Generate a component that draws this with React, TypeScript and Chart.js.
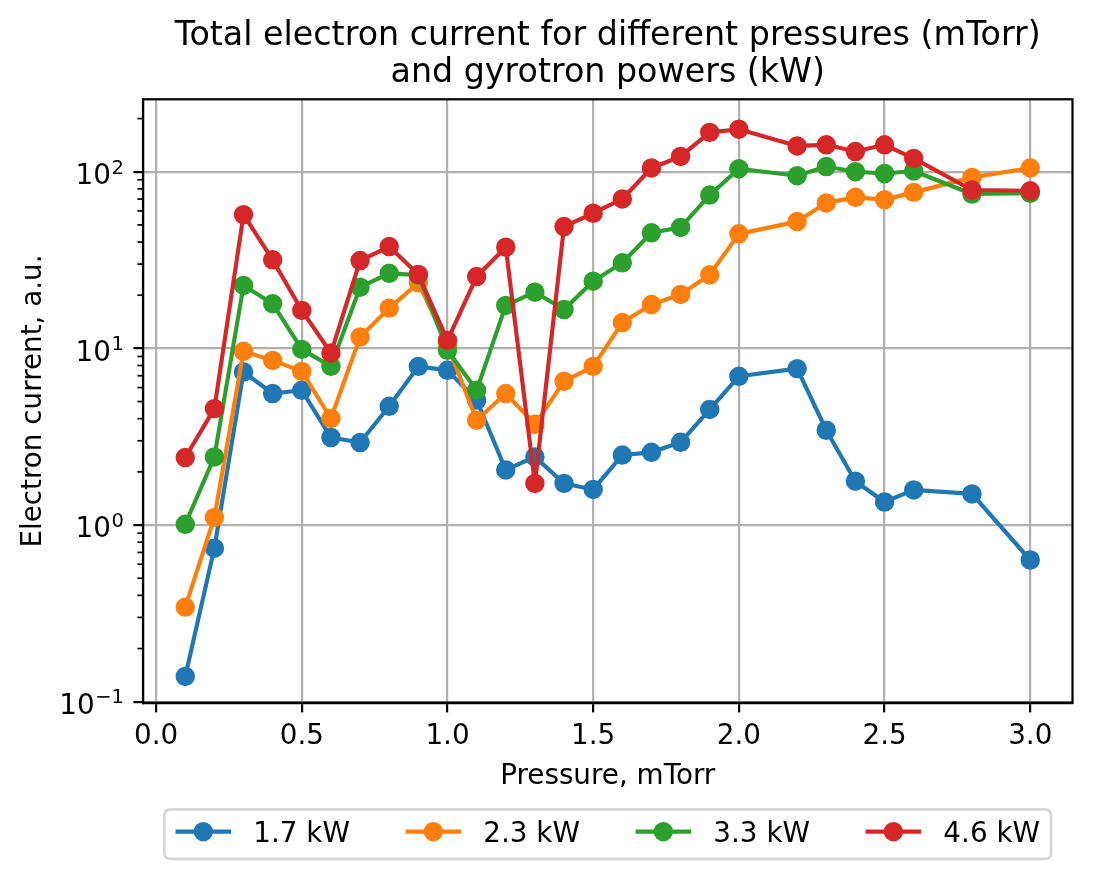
import React, { useEffect, useRef } from 'react';
import { Chart, registerables } from 'chart.js';

Chart.register(...registerables);

const pressure = [
  0.1, 0.2, 0.3, 0.4, 0.5, 0.6, 0.7, 0.8, 0.9, 1.0,
  1.1, 1.2, 1.3, 1.4, 1.5, 1.6, 1.7, 1.8, 1.9, 2.0,
  2.2, 2.3, 2.4, 2.5, 2.6, 2.8, 3.0,
];

const current17 = [
  0.139, 0.74, 7.35, 5.55, 5.79, 3.13, 2.93, 4.7, 7.91, 7.51,
  5.1, 2.05, 2.43, 1.72, 1.59, 2.49, 2.58, 2.94, 4.51, 6.95,
  7.68, 3.44, 1.77, 1.35, 1.58, 1.5, 0.634,
];
const current23 = [
  0.343, 1.105, 9.62, 8.55, 7.41, 4.01, 11.6, 16.9, 23.5, 10.5,
  3.92, 5.55, 3.72, 6.51, 7.91, 14.0, 17.7, 20.2, 26.1, 44.5,
  52.2, 66.6, 71.6, 69.5, 76.4, 92.9, 105,
];
const current33 = [
  1.01, 2.43, 22.7, 17.9, 9.87, 7.91, 22.2, 26.6, 26.0, 9.75,
  5.79, 17.5, 20.8, 16.6, 24.0, 30.5, 45.1, 48.4, 73.8, 104,
  94.9, 107, 100, 97.7, 101, 74.8, 75.5,
];
const current46 = [
  2.41, 4.56, 57.1, 31.7, 16.4, 9.41, 31.4, 37.7, 26.2, 11.1,
  25.5, 37.4, 1.72, 48.9, 58.2, 70.1, 105, 122, 167, 174,
  140, 142, 130, 142, 119, 78.8, 78.0,
];

const seriesLabels = ['1.7 kW', '2.3 kW', '3.3 kW', '4.6 kW'];
const seriesColors = ['#1f77b4', '#ff7f0e', '#2ca02c', '#d62728'];
const seriesValues = [current17, current23, current33, current46];

const xTicks = [0, 0.5, 1.0, 1.5, 2.0, 2.5, 3.0];
const yTicks = [0.1, 1, 10, 100];
const yTickBase = '10';
const yTickExponents = ['\u22121', '0', '1', '2'];
const minorMultipliers = [2, 3, 4, 5, 6, 7, 8, 9];

const titleLines = [
  'Total electron current for different pressures (mTorr)',
  'and gyrotron powers (kW)',
];
const xLabel = 'Pressure, mTorr';
const yLabel = 'Electron current, a.u.';

const FONT = '"DejaVu Sans", sans-serif';
const W = 1096;
const H = 879;

// matplotlib look at ~200 dpi
const decorations = {
  id: 'decorations',
  afterDatasetsDraw(chart: any) {
    const { ctx, chartArea: a, scales } = chart;
    ctx.save();
    ctx.strokeStyle = '#000';
    ctx.lineWidth = 2.2;
    ctx.strokeRect(a.left, a.top, a.right - a.left, a.bottom - a.top);

    // minor log ticks on the y axis
    const y = scales.y;
    ctx.lineWidth = 1.7;
    for (let d = -2; d <= 3; d++) {
      for (const m of minorMultipliers) {
        const v = m * Math.pow(10, d);
        if (v < y.min || v > y.max) continue;
        const py = y.getPixelForValue(v);
        ctx.beginPath();
        ctx.moveTo(a.left, py);
        ctx.lineTo(a.left - 5.6, py);
        ctx.stroke();
      }
    }

    // y tick labels as 10^n (mathtext style)
    ctx.fillStyle = '#000';
    ctx.textBaseline = 'alphabetic';
    ctx.textAlign = 'left';
    const right = a.left - 19.6;
    yTicks.forEach((v, i) => {
      const py = y.getPixelForValue(v);
      ctx.font = `19.5px ${FONT}`;
      const supW = ctx.measureText(yTickExponents[i]).width;
      ctx.font = `27.8px ${FONT}`;
      const baseW = ctx.measureText(yTickBase).width;
      const x0 = right - supW - baseW;
      ctx.fillText(yTickBase, x0, py + 12.3);
      ctx.font = `19.5px ${FONT}`;
      ctx.fillText(yTickExponents[i], x0 + baseW + 0.5, py + 1.8);
    });
    ctx.restore();
  },
  afterDraw(chart: any) {
    const { ctx, chartArea: a } = chart;
    const cx = (a.left + a.right) / 2;
    ctx.save();

    // title
    ctx.fillStyle = '#000';
    ctx.font = `33.3px ${FONT}`;
    ctx.textAlign = 'center';
    ctx.textBaseline = 'alphabetic';
    ctx.fillText(titleLines[0], cx, 45.3);
    ctx.fillText(titleLines[1], cx, 82);

    // legend below the axes
    ctx.font = `27.8px ${FONT}`;
    const handleLen = 55.6;
    const handlePad = 22.2;
    const colSpace = 55.6;
    const pad = 11.1;
    const widths = seriesLabels.map((t) => ctx.measureText(t).width);
    const content =
      widths.reduce((s, w) => s + w, 0) +
      seriesLabels.length * (handleLen + handlePad) +
      (seriesLabels.length - 1) * colSpace;
    const boxW = content + 2 * pad;
    const boxL = cx - boxW / 2;
    const boxT = 809.3;
    const boxH = 49.7;
    ctx.beginPath();
    ctx.roundRect(boxL, boxT, boxW, boxH, 5.6);
    ctx.fillStyle = 'rgba(255,255,255,0.8)';
    ctx.fill();
    ctx.strokeStyle = '#d6d6d6';
    ctx.lineWidth = 2.8;
    ctx.stroke();

    let x = boxL + pad;
    const lineY = 831.7;
    ctx.textAlign = 'left';
    seriesLabels.forEach((label, i) => {
      ctx.strokeStyle = seriesColors[i];
      ctx.fillStyle = seriesColors[i];
      ctx.lineWidth = 4.17;
      ctx.beginPath();
      ctx.moveTo(x, lineY);
      ctx.lineTo(x + handleLen, lineY);
      ctx.stroke();
      ctx.beginPath();
      ctx.arc(x + handleLen / 2, lineY, 9.7, 0, Math.PI * 2);
      ctx.fill();
      ctx.fillStyle = '#000';
      ctx.fillText(label, x + handleLen + handlePad, 841.7);
      x += handleLen + handlePad + widths[i] + colSpace;
    });
    ctx.restore();
  },
};

const ElectronCurrentChart: React.FC = () => {
  const canvasRef = useRef<HTMLCanvasElement>(null);
  const chartRef = useRef<Chart | null>(null);

  useEffect(() => {
    if (!canvasRef.current) return;
    if (chartRef.current) chartRef.current.destroy();

    const tickFont = { family: FONT, size: 27.8 };
    const gridOpts = {
      color: '#b0b0b0',
      lineWidth: 2.2,
      tickColor: '#000',
      tickLength: 9.7,
      tickWidth: 2.2,
      drawTicks: true,
    };

    chartRef.current = new Chart(canvasRef.current, {
      type: 'line',
      data: {
        datasets: seriesValues.map((vals, i) => ({
          label: seriesLabels[i],
          data: pressure.map((p, j) => ({ x: p, y: vals[j] })),
          borderColor: seriesColors[i],
          backgroundColor: seriesColors[i],
          pointBackgroundColor: seriesColors[i],
          pointBorderColor: seriesColors[i],
          borderWidth: 4.17,
          borderJoinStyle: 'round',
          pointRadius: 8.35,
          pointBorderWidth: 2.78,
          pointHoverRadius: 8.35,
          tension: 0,
          fill: false,
          order: seriesLabels.length - i,
        })),
      },
      options: {
        animation: false,
        responsive: true,
        maintainAspectRatio: false,
        events: [],
        layout: { padding: { left: 0, right: W - 1072.5, top: 99.3, bottom: 0 } },
        plugins: {
          legend: { display: false },
          title: { display: false },
          tooltip: { enabled: false },
        },
        scales: {
          x: {
            type: 'linear',
            min: -0.045,
            max: 3.145,
            afterBuildTicks: (s: any) => {
              s.ticks = xTicks.map((v) => ({ value: v }));
            },
            afterFit: (s: any) => {
              s.height = H - 702.7;
            },
            ticks: {
              callback: (v: any) => Number(v).toFixed(1),
              font: tickFont,
              color: '#000',
              padding: 7.6,
              maxRotation: 0,
              autoSkip: false,
            },
            grid: gridOpts,
            border: { display: true, color: '#000', width: 2.2 },
            title: {
              display: true,
              text: xLabel,
              font: tickFont,
              color: '#000',
              padding: { top: 0, bottom: 85.6 },
            },
          },
          y: {
            type: 'logarithmic',
            min: 0.0987,
            max: 257,
            afterBuildTicks: (s: any) => {
              s.ticks = yTicks.map((v) => ({ value: v, major: true }));
            },
            afterFit: (s: any) => {
              s.width = 143;
            },
            ticks: {
              callback: () => '',
              font: tickFont,
              color: '#000',
              padding: 10,
              autoSkip: false,
            },
            grid: gridOpts,
            border: { display: true, color: '#000', width: 2.2 },
            title: {
              display: true,
              text: yLabel,
              font: tickFont,
              color: '#000',
              padding: { top: 16.7, bottom: 0 },
            },
          },
        },
      },
      plugins: [decorations],
    } as any);

    return () => {
      if (chartRef.current) {
        chartRef.current.destroy();
        chartRef.current = null;
      }
    };
  }, []);

  return (
    <div style={{ position: 'absolute', left: 0, top: 0, width: W, height: H, background: '#fff' }}>
      <canvas ref={canvasRef} />
    </div>
  );
};

export default function App() {
  return <ElectronCurrentChart />;
}
